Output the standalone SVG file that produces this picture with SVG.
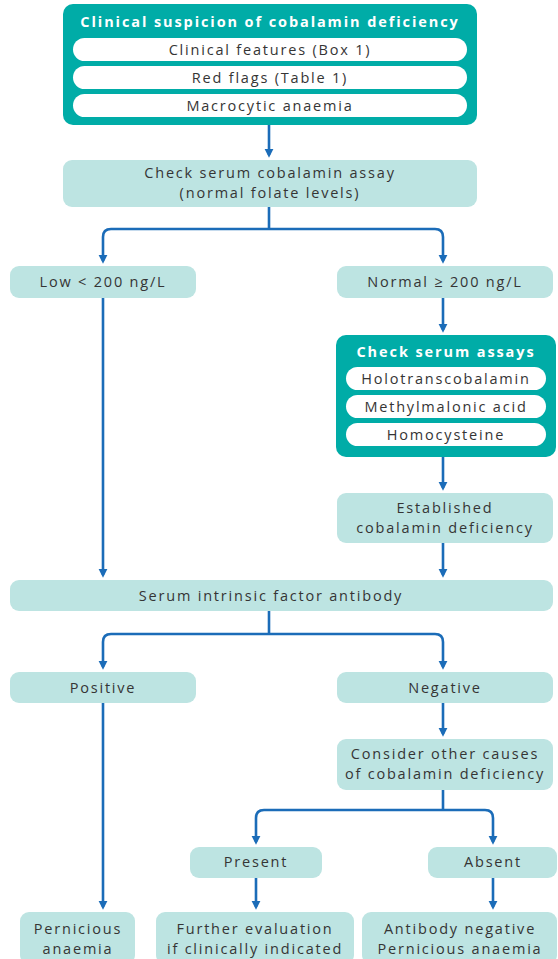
<svg xmlns="http://www.w3.org/2000/svg" width="558" height="959" viewBox="0 0 558 959">
<defs>
<style>
.dark{fill:#00aca7}
.light{fill:#bde4e2}
.pill{fill:#ffffff}
.t{font-family:"Open Sans","Liberation Sans",sans-serif;font-size:14.5px;letter-spacing:1.8px;fill:#353535;text-anchor:middle}
.h{font-family:"Open Sans","Liberation Sans",sans-serif;font-size:14.5px;font-weight:bold;letter-spacing:1.9px;fill:#ffffff;text-anchor:middle}
.c{fill:none;stroke:#1b6cb8;stroke-width:2.6;marker-end:url(#ah)}
.s{fill:none;stroke:#1b6cb8;stroke-width:2.6}
</style>
<marker id="ah" viewBox="0 0 10 10" refX="7" refY="5" markerWidth="9" markerHeight="11" markerUnits="userSpaceOnUse" orient="auto">
<path d="M0,0 L10,5 L0,10 z" fill="#1b6cb8"/>
</marker>
</defs>
<g id="connectors">
<path class="c" d="M269,125 V155"/>
<path class="s" d="M269,207 V229"/>
<path class="c" d="M269,229 H111 Q103,229 103,237 V261"/>
<path class="c" d="M269,229 H435 Q443,229 443,237 V261"/>
<path class="c" d="M443,298 V330"/>
<path class="c" d="M443,457 V488"/>
<path class="c" d="M443,543 V575"/>
<path class="c" d="M103,298 V575"/>
<path class="s" d="M269,611 V634"/>
<path class="c" d="M269,634 H111 Q103,634 103,642 V667"/>
<path class="c" d="M269,634 H435 Q443,634 443,642 V667"/>
<path class="c" d="M443,703 V734"/>
<path class="s" d="M443,790 V810"/>
<path class="c" d="M443,810 H264 Q256,810 256,818 V842"/>
<path class="c" d="M443,810 H485 Q493,810 493,818 V842"/>
<path class="c" d="M103,703 V907"/>
<path class="c" d="M256,878 V907"/>
<path class="c" d="M493,878 V907"/>
</g>
<g id="suspicion">
<rect class="dark" x="63" y="4" width="414" height="121" rx="10"/>
<text class="h" x="270" y="27">Clinical suspicion of cobalamin deficiency</text>
<rect class="pill" x="73" y="38" width="394" height="23" rx="11.5"/>
<text class="t" x="270" y="55">Clinical features (Box 1)</text>
<rect class="pill" x="73" y="66" width="394" height="23" rx="11.5"/>
<text class="t" x="270" y="83">Red flags (Table 1)</text>
<rect class="pill" x="73" y="94" width="394" height="23" rx="11.5"/>
<text class="t" x="270" y="111">Macrocytic anaemia</text>
</g>
<g id="check-cobalamin">
<rect class="light" x="63" y="160" width="414" height="47" rx="9"/>
<text class="t" x="270" y="178">Check serum cobalamin assay</text>
<text class="t" x="270" y="198">(normal folate levels)</text>
</g>
<g id="low">
<rect class="light" x="10" y="266" width="186" height="32" rx="9"/>
<text class="t" x="103" y="287">Low &lt; 200 ng/L</text>
</g>
<g id="normal">
<rect class="light" x="337" y="266" width="216" height="32" rx="9"/>
<text class="t" x="445" y="287">Normal ≥ 200 ng/L</text>
</g>
<g id="assays">
<rect class="dark" x="336" y="335" width="220" height="122" rx="10"/>
<text class="h" x="446" y="357">Check serum assays</text>
<rect class="pill" x="346" y="367" width="200" height="23" rx="11.5"/>
<text class="t" x="446" y="384">Holotranscobalamin</text>
<rect class="pill" x="346" y="395" width="200" height="23" rx="11.5"/>
<text class="t" x="446" y="412">Methylmalonic acid</text>
<rect class="pill" x="346" y="423" width="200" height="23" rx="11.5"/>
<text class="t" x="446" y="440">Homocysteine</text>
</g>
<g id="established">
<rect class="light" x="337" y="493" width="216" height="50" rx="9"/>
<text class="t" x="445" y="513">Established</text>
<text class="t" x="445" y="533">cobalamin deficiency</text>
</g>
<g id="ifa">
<rect class="light" x="10" y="580" width="543" height="31" rx="9"/>
<text class="t" x="271" y="601">Serum intrinsic factor antibody</text>
</g>
<g id="positive">
<rect class="light" x="10" y="672" width="186" height="31" rx="9"/>
<text class="t" x="103" y="693">Positive</text>
</g>
<g id="negative">
<rect class="light" x="337" y="672" width="216" height="31" rx="9"/>
<text class="t" x="445" y="693">Negative</text>
</g>
<g id="consider">
<rect class="light" x="337" y="739" width="216" height="51" rx="9"/>
<text class="t" x="445" y="759">Consider other causes</text>
<text class="t" x="445" y="779">of cobalamin deficiency</text>
</g>
<g id="present">
<rect class="light" x="190" y="847" width="132" height="31" rx="9"/>
<text class="t" x="256" y="867">Present</text>
</g>
<g id="absent">
<rect class="light" x="428" y="847" width="129" height="31" rx="9"/>
<text class="t" x="493" y="867">Absent</text>
</g>
<g id="pernicious">
<rect class="light" x="20" y="912" width="115" height="52" rx="9"/>
<text class="t" x="78" y="934">Pernicious</text>
<text class="t" x="78" y="954">anaemia</text>
</g>
<g id="further">
<rect class="light" x="156" y="912" width="198" height="52" rx="9"/>
<text class="t" x="255" y="934">Further evaluation</text>
<text class="t" x="255" y="954">if clinically indicated</text>
</g>
<g id="antibody-negative">
<rect class="light" x="362" y="912" width="195" height="52" rx="9"/>
<text class="t" x="460" y="934">Antibody negative</text>
<text class="t" x="460" y="954">Pernicious anaemia</text>
</g>
</svg>
